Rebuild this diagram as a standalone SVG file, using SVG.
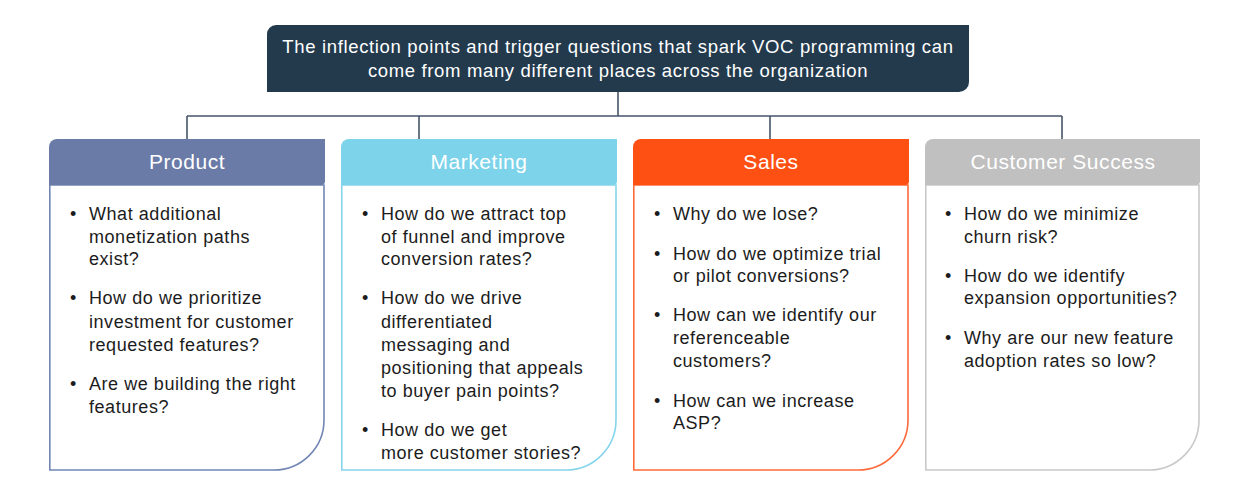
<svg xmlns="http://www.w3.org/2000/svg" width="1255" height="495" viewBox="0 0 1255 495">
<defs>
<style>
.conn{fill:none;stroke:#46566a;stroke-width:1.6}
.title{font-family:"Liberation Sans",Arial,sans-serif;font-size:18.5px;letter-spacing:0.65px;fill:#ffffff;text-anchor:middle}
.hdr{font-family:"Liberation Sans",Arial,sans-serif;font-size:21px;letter-spacing:0.55px;fill:#ffffff;text-anchor:middle}
.txt{font-family:"Liberation Sans",Arial,sans-serif;font-size:18px;letter-spacing:0.55px;fill:#1c1c1c}
.body{fill:#ffffff;stroke-width:1.6}
</style>
</defs>
<rect width="1255" height="495" fill="#ffffff"/>
<g id="title">
<path d="M267,34 a9,9 0 0 1 9,-9 H969 V82 a10,10 0 0 1 -10,10 H267 Z" fill="#233a4d"/>
<text class="title" x="618" y="53">The inflection points and trigger questions that spark VOC programming can</text>
<text class="title" x="618" y="77">come from many different places across the organization</text>
</g>
<g id="connectors">
<path class="conn" d="M618,92 V116 M187,116 H1062 M187,116 V139 M419,116 V139 M770,116 V139 M1062,116 V139"/>
</g>
<g id="product">
<path class="body" stroke="#7186b4" d="M49.8,185 H324 V420 a50,50 0 0 1 -50,50 H49.8 Z"/>
<path d="M49,147 a8,8 0 0 1 8,-8 H325 V181 a4,4 0 0 1 -4,4 H49 Z" fill="#6a7ba7"/>
<text class="hdr" x="187" y="169">Product</text>
<g class="txt">
<text x="70" y="220">•</text><text x="89" y="220">What additional</text>
<text x="89" y="243">monetization paths</text>
<text x="89" y="265">exist?</text>
<text x="70" y="304">•</text><text x="89" y="304">How do we prioritize</text>
<text x="89" y="328">investment for customer</text>
<text x="89" y="351">requested features?</text>
<text x="70" y="390">•</text><text x="89" y="390">Are we building the right</text>
<text x="89" y="413">features?</text>
</g>
</g>
<g id="marketing">
<path class="body" stroke="#86d5ec" d="M341.8,185 H616 V420 a50,50 0 0 1 -50,50 H341.8 Z"/>
<path d="M341,147 a8,8 0 0 1 8,-8 H617 V181 a4,4 0 0 1 -4,4 H341 Z" fill="#7dd3ea"/>
<text class="hdr" x="479" y="169">Marketing</text>
<g class="txt">
<text x="362" y="220">•</text><text x="381" y="220">How do we attract top</text>
<text x="381" y="243">of funnel and improve</text>
<text x="381" y="265">conversion rates?</text>
<text x="362" y="304">•</text><text x="381" y="304">How do we drive</text>
<text x="381" y="328">differentiated</text>
<text x="381" y="351">messaging and</text>
<text x="381" y="374">positioning that appeals</text>
<text x="381" y="397">to buyer pain points?</text>
<text x="362" y="436">•</text><text x="381" y="436">How do we get</text>
<text x="381" y="459">more customer stories?</text>
</g>
</g>
<g id="sales">
<path class="body" stroke="#ff6a3a" d="M633.8,185 H908 V420 a50,50 0 0 1 -50,50 H633.8 Z"/>
<path d="M633,147 a8,8 0 0 1 8,-8 H909 V181 a4,4 0 0 1 -4,4 H633 Z" fill="#fe5013"/>
<text class="hdr" x="771" y="169">Sales</text>
<g class="txt">
<text x="654" y="220">•</text><text x="673" y="220">Why do we lose?</text>
<text x="654" y="260">•</text><text x="673" y="260">How do we optimize trial</text>
<text x="673" y="282">or pilot conversions?</text>
<text x="654" y="321">•</text><text x="673" y="321">How can we identify our</text>
<text x="673" y="344">referenceable</text>
<text x="673" y="367">customers?</text>
<text x="654" y="407">•</text><text x="673" y="407">How can we increase</text>
<text x="673" y="429">ASP?</text>
</g>
</g>
<g id="customer-success">
<path class="body" stroke="#c9c9c9" d="M925.8,185 H1199 V420 a50,50 0 0 1 -50,50 H925.8 Z"/>
<path d="M925,147 a8,8 0 0 1 8,-8 H1200 V181 a4,4 0 0 1 -4,4 H925 Z" fill="#c0c0c0"/>
<text class="hdr" x="1063" y="169">Customer Success</text>
<g class="txt">
<text x="945" y="220">•</text><text x="964" y="220">How do we minimize</text>
<text x="964" y="243">churn risk?</text>
<text x="945" y="282">•</text><text x="964" y="282">How do we identify</text>
<text x="964" y="304">expansion opportunities?</text>
<text x="945" y="344">•</text><text x="964" y="344">Why are our new feature</text>
<text x="964" y="367">adoption rates so low?</text>
</g>
</g>
</svg>
